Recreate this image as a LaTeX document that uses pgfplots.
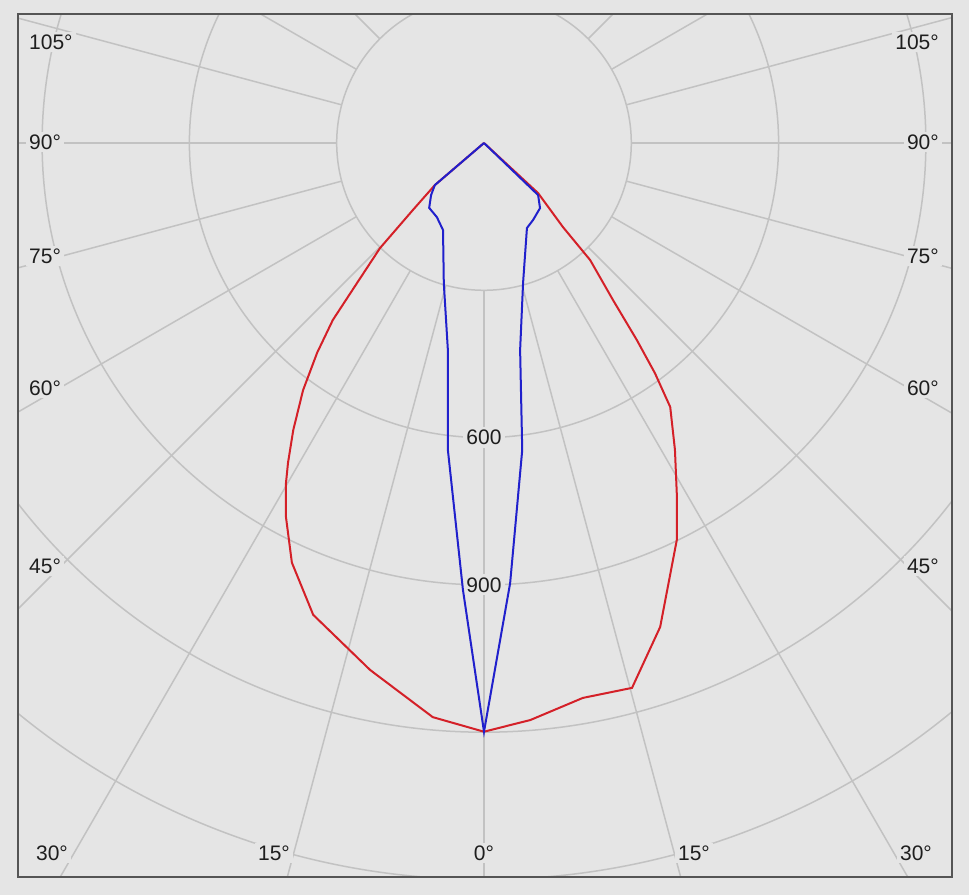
\documentclass[border=0pt]{standalone}
\usepackage{pgfplots}
\pgfplotsset{compat=1.18}
\usepackage{fontspec}
\setmainfont{Liberation Sans}
\definecolor{bgc}{RGB}{229,229,229}
\definecolor{gridc}{RGB}{194,194,194}
\definecolor{framec}{RGB}{85,85,85}
\definecolor{redc}{RGB}{212,32,40}
\definecolor{bluec}{RGB}{32,32,204}
\definecolor{txtc}{RGB}{30,30,30}
\tikzset{lbl/.style={font=\fontsize{21}{24}\selectfont, text=txtc, fill=bgc, inner sep=3pt}}
\begin{document}
\begin{tikzpicture}
\fill[bgc] (0,0) rectangle (969pt,895pt);
\begin{axis}[at={(18pt,18pt)}, anchor=south west, scale only axis,
  width=934pt, height=863pt,
  xmin=-949.1, xmax=953.2, ymin=-1494.9, ymax=262.7, ticks=none,
  axis line style={draw=framec, line width=2pt},
  axis background/.style={fill=bgc},
  axis on top,
]
\pgfplotsinvokeforeach{300,600,900,1200,1500,1800}{
  \draw[gridc, line width=1.5pt] (axis cs:0,0) circle[radius=#1];
}
\pgfplotsinvokeforeach{0,15,30,45,60,75,90,105,120,135,150,165,180,195,210,225,240,255,270,285,300,315,330,345}{
  \draw[gridc, line width=1.5pt] (axis cs:{300*cos(#1)},{300*sin(#1)}) -- (axis cs:{2000*cos(#1)},{2000*sin(#1)});
}
% angle labels
\node[lbl, anchor=west] at (axis cs:-932.8,205.7) {105°};
\node[lbl, anchor=west] at (axis cs:-932.8,2.0) {90°};
\node[lbl, anchor=west] at (axis cs:-932.8,-230.1) {75°};
\node[lbl, anchor=west] at (axis cs:-932.8,-499.0) {60°};
\node[lbl, anchor=west] at (axis cs:-932.8,-861.5) {45°};
\node[lbl, anchor=east] at (axis cs:932.8,205.7) {105°};
\node[lbl, anchor=east] at (axis cs:932.8,2.0) {90°};
\node[lbl, anchor=east] at (axis cs:932.8,-230.1) {75°};
\node[lbl, anchor=east] at (axis cs:932.8,-499.0) {60°};
\node[lbl, anchor=east] at (axis cs:932.8,-861.5) {45°};
\node[lbl] at (axis cs:-879.9,-1446.1) {30°};
\node[lbl] at (axis cs:-427.7,-1446.1) {15°};
\node[lbl] at (axis cs:0,-1446.1) {0°};
\node[lbl] at (axis cs:427.7,-1446.1) {15°};
\node[lbl] at (axis cs:879.9,-1446.1) {30°};
% intensity labels
\node[lbl] at (axis cs:0,-600) {600};
\node[lbl] at (axis cs:0,-900) {900};
% C0-C180 plane
\addplot[redc, line width=2pt, data cs=polar] coordinates {
  (-42.8,0) (-42.8,150) (-46.8,235) (-47.8,322) (-50.6,414) (-52.2,508)
  (-53.4,584) (-54.8,658) (-58.1,736)
  (-61.3,818) (-64.1,899) (-70.0,1049) (-74.8,1150) (-79.9,1148) (-85.4,1179)
  (-90.0,1199) (-95.1,1174) (-102.2,1098) (-109.9,1022) (-114.6,940)
  (-117.9,862) (-120.1,805) (-121.5,764) (-123.6,702) (-126.2,624)
  (-128.5,546) (-130.5,474) (-132.2,385) (-134.7,301) (-136.7,199)
  (-139.4,132) (-139.4,0)
};
% C90-C270 plane
\addplot[bluec, line width=2pt, data cs=polar] coordinates {
  (-43.9,0) (-43.9,153) (-49.3,175) (-57.5,186) (-63.2,194) (-74.4,296)
  (-80.1,428) (-82.9,630) (-86.6,898) (-90.0,1199) (-92.7,911) (-96.7,630)
  (-99.9,428) (-106.0,297) (-115.2,196) (-122.4,179) (-130.2,173)
  (-135.5,151) (-139.4,132) (-139.4,0)
};
\end{axis}
\end{tikzpicture}
\end{document}
